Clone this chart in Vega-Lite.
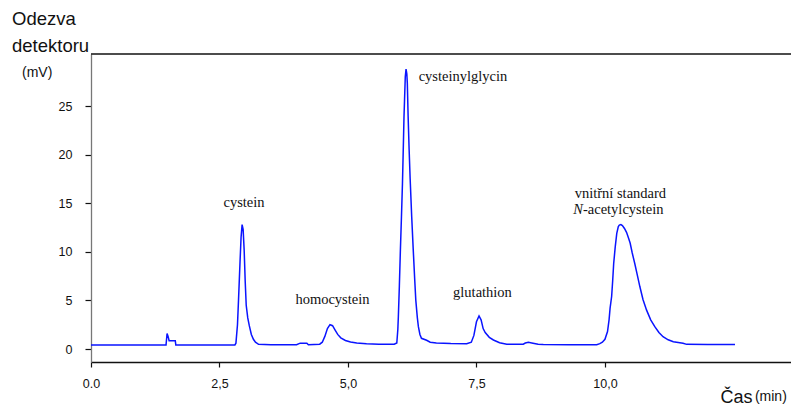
{
  "$schema": "https://vega.github.io/schema/vega-lite/v6.json",
  "width": 700,
  "height": 308,
  "autosize": {"type": "none"},
  "padding": {"left": 91, "top": 54, "right": 0, "bottom": 45},
  "background": "white",
  "config": {
    "view": {"stroke": null},
    "font": "Liberation Sans"
  },
  "datasets": {
    "trace": [
      {"t": 0, "v": 0.42}, {"t": 0.5, "v": 0.42}, {"t": 1.0, "v": 0.41}, {"t": 1.46, "v": 0.42},
      {"t": 1.47, "v": 1.0}, {"t": 1.48, "v": 1.6}, {"t": 1.5, "v": 1.3}, {"t": 1.52, "v": 0.85},
      {"t": 1.64, "v": 0.85}, {"t": 1.65, "v": 0.42}, {"t": 2.0, "v": 0.42}, {"t": 2.5, "v": 0.42},
      {"t": 2.8, "v": 0.42}, {"t": 2.82, "v": 0.6}, {"t": 2.85, "v": 2.5}, {"t": 2.87, "v": 5.0},
      {"t": 2.9, "v": 9.0}, {"t": 2.92, "v": 11.5}, {"t": 2.94, "v": 12.8}, {"t": 2.96, "v": 12.3},
      {"t": 2.98, "v": 10.2}, {"t": 3.0, "v": 7.0}, {"t": 3.02, "v": 4.5}, {"t": 3.05, "v": 3.2},
      {"t": 3.08, "v": 2.4}, {"t": 3.12, "v": 1.5}, {"t": 3.16, "v": 1.0}, {"t": 3.2, "v": 0.7},
      {"t": 3.26, "v": 0.48}, {"t": 3.5, "v": 0.44}, {"t": 4.0, "v": 0.44}, {"t": 4.07, "v": 0.6},
      {"t": 4.2, "v": 0.6}, {"t": 4.23, "v": 0.44}, {"t": 4.45, "v": 0.5}, {"t": 4.5, "v": 0.7},
      {"t": 4.55, "v": 1.3}, {"t": 4.6, "v": 2.1}, {"t": 4.65, "v": 2.5}, {"t": 4.7, "v": 2.4},
      {"t": 4.75, "v": 1.95}, {"t": 4.8, "v": 1.5}, {"t": 4.86, "v": 1.15}, {"t": 4.95, "v": 0.88},
      {"t": 5.05, "v": 0.72}, {"t": 5.17, "v": 0.62}, {"t": 5.36, "v": 0.55}, {"t": 5.6, "v": 0.5},
      {"t": 5.9, "v": 0.5}, {"t": 5.95, "v": 0.62}, {"t": 5.97, "v": 2.0}, {"t": 5.98, "v": 3.3},
      {"t": 6.0, "v": 6.5}, {"t": 6.02, "v": 10.2}, {"t": 6.04, "v": 13.5}, {"t": 6.06, "v": 17.0},
      {"t": 6.08, "v": 21.5}, {"t": 6.09, "v": 23.9}, {"t": 6.1, "v": 25.5}, {"t": 6.115, "v": 28.0},
      {"t": 6.13, "v": 28.8}, {"t": 6.145, "v": 28.3}, {"t": 6.155, "v": 27.3}, {"t": 6.17, "v": 24.0},
      {"t": 6.19, "v": 20.5}, {"t": 6.21, "v": 17.5}, {"t": 6.24, "v": 13.6}, {"t": 6.27, "v": 10.2},
      {"t": 6.3, "v": 7.0}, {"t": 6.32, "v": 5.0}, {"t": 6.35, "v": 3.2}, {"t": 6.37, "v": 2.3},
      {"t": 6.4, "v": 1.5}, {"t": 6.43, "v": 1.1}, {"t": 6.53, "v": 0.9}, {"t": 6.6, "v": 0.7},
      {"t": 6.72, "v": 0.62}, {"t": 7.0, "v": 0.56}, {"t": 7.31, "v": 0.55}, {"t": 7.4, "v": 0.7},
      {"t": 7.45, "v": 1.4}, {"t": 7.5, "v": 2.8}, {"t": 7.55, "v": 3.4}, {"t": 7.59, "v": 3.0},
      {"t": 7.63, "v": 2.1}, {"t": 7.67, "v": 1.7}, {"t": 7.75, "v": 1.2}, {"t": 7.83, "v": 0.93},
      {"t": 7.95, "v": 0.65}, {"t": 8.09, "v": 0.5}, {"t": 8.41, "v": 0.5}, {"t": 8.45, "v": 0.62},
      {"t": 8.51, "v": 0.69}, {"t": 8.6, "v": 0.6}, {"t": 8.7, "v": 0.5}, {"t": 8.8, "v": 0.46},
      {"t": 9.3, "v": 0.44}, {"t": 9.84, "v": 0.44}, {"t": 9.9, "v": 0.55}, {"t": 9.95, "v": 0.7},
      {"t": 10.0, "v": 1.0}, {"t": 10.05, "v": 1.8}, {"t": 10.08, "v": 3.0}, {"t": 10.1, "v": 4.2},
      {"t": 10.13, "v": 5.4}, {"t": 10.15, "v": 7.0}, {"t": 10.17, "v": 8.8}, {"t": 10.2, "v": 10.5},
      {"t": 10.23, "v": 11.9}, {"t": 10.26, "v": 12.6}, {"t": 10.28, "v": 12.75}, {"t": 10.31, "v": 12.8},
      {"t": 10.34, "v": 12.7}, {"t": 10.38, "v": 12.4}, {"t": 10.42, "v": 12.0}, {"t": 10.46, "v": 11.4},
      {"t": 10.49, "v": 10.9}, {"t": 10.53, "v": 9.9}, {"t": 10.58, "v": 8.8}, {"t": 10.63, "v": 7.6},
      {"t": 10.68, "v": 6.4}, {"t": 10.74, "v": 5.1}, {"t": 10.81, "v": 4.0}, {"t": 10.89, "v": 3.0},
      {"t": 10.97, "v": 2.3}, {"t": 11.05, "v": 1.7}, {"t": 11.13, "v": 1.27}, {"t": 11.23, "v": 0.95},
      {"t": 11.33, "v": 0.75}, {"t": 11.52, "v": 0.6}, {"t": 11.59, "v": 0.48}, {"t": 12.0, "v": 0.46},
      {"t": 12.53, "v": 0.46}
    ],
    "peaks": [
      {"t": 2.977, "v": 14.64, "label": "cystein"},
      {"t": 4.698, "v": 4.63, "label": "homocystein"},
      {"t": 7.237, "v": 27.57, "label": "cysteinylglycin"},
      {"t": 7.617, "v": 5.35, "label": "glutathion"},
      {"t": 10.30, "v": 15.53, "label": "vnitřní standard"}
    ],
    "italic": [{"t": 9.572, "v": 13.86, "label": "N"}],
    "rest": [{"t": 9.572, "v": 13.86, "label": "-acetylcystein"}],
    "units": [
      {"t": -1.342, "v": 28.0, "label": "(mV)"},
      {"t": 12.918, "v": -5.35, "label": "(min)"}
    ],
    "ytitle": [
      {"t": -1.537, "v": 33.33, "label": "Odezva"},
      {"t": -1.537, "v": 30.56, "label": "detektoru"}
    ],
    "frame": [{"v": 30.35}]
  },
  "layer": [
    {
      "data": {"name": "trace"},
      "mark": {"type": "line", "color": "#0a14ff", "strokeWidth": 1.5, "interpolate": "linear"},
      "encoding": {
        "x": {
          "field": "t", "type": "quantitative",
          "scale": {"domain": [0, 13.62], "nice": false, "zero": false},
          "axis": {
            "values": [0, 2.5, 5, 7.5, 10],
            "labelExpr": "datum.value == 0 ? '0.0' : replace(format(datum.value, '.1f'), '.', ',')",
            "grid": false, "labelFlush": false,
            "domainColor": "#111", "domainWidth": 1.3,
            "tickColor": "#111", "tickSize": 5, "tickWidth": 1.2,
            "labelFont": "Liberation Sans", "labelFontSize": 12.5, "labelColor": "#111",
            "labelPadding": 10, "labelBaseline": "top",
            "title": "Čas", "titleFont": "Liberation Sans", "titleFontSize": 18, "titleFontWeight": "normal",
            "titleColor": "#111", "titleAlign": "left", "titleAnchor": "start", "titleBaseline": "alphabetic",
            "titleX": 629, "titleY": 40
          }
        },
        "y": {
          "field": "v", "type": "quantitative",
          "scale": {"domain": [-1.337, 30.35], "nice": false, "zero": false},
          "axis": {
            "values": [0, 5, 10, 15, 20, 25],
            "grid": false, "labelFlush": false,
            "domainColor": "#777", "domainWidth": 1.3,
            "tickColor": "#111", "tickSize": 6, "tickWidth": 1.2,
            "labelFont": "Liberation Sans", "labelFontSize": 12.5, "labelColor": "#111",
            "labelPadding": 13,
            "title": null
          }
        }
      }
    },
    {
      "data": {"name": "frame"},
      "mark": {"type": "rule", "color": "#111", "strokeWidth": 1.4},
      "encoding": {"y": {"field": "v", "type": "quantitative"}}
    },
    {
      "data": {"name": "peaks"},
      "mark": {"type": "text", "font": "Liberation Serif", "fontSize": 14.5, "color": "#111", "align": "center", "baseline": "alphabetic"},
      "encoding": {
        "x": {"field": "t", "type": "quantitative"},
        "y": {"field": "v", "type": "quantitative"},
        "text": {"field": "label"}
      }
    },
    {
      "data": {"name": "italic"},
      "mark": {"type": "text", "font": "Liberation Serif", "fontSize": 14.5, "fontStyle": "italic", "color": "#111", "align": "right", "baseline": "alphabetic"},
      "encoding": {
        "x": {"field": "t", "type": "quantitative"},
        "y": {"field": "v", "type": "quantitative"},
        "text": {"field": "label"}
      }
    },
    {
      "data": {"name": "rest"},
      "mark": {"type": "text", "font": "Liberation Serif", "fontSize": 14.5, "color": "#111", "align": "left", "baseline": "alphabetic"},
      "encoding": {
        "x": {"field": "t", "type": "quantitative"},
        "y": {"field": "v", "type": "quantitative"},
        "text": {"field": "label"}
      }
    },
    {
      "data": {"name": "units"},
      "mark": {"type": "text", "font": "Liberation Sans", "fontSize": 14, "color": "#111", "align": "left", "baseline": "alphabetic"},
      "encoding": {
        "x": {"field": "t", "type": "quantitative"},
        "y": {"field": "v", "type": "quantitative"},
        "text": {"field": "label"}
      }
    },
    {
      "data": {"name": "ytitle"},
      "mark": {"type": "text", "font": "Liberation Sans", "fontSize": 18.5, "color": "#111", "align": "left", "baseline": "alphabetic"},
      "encoding": {
        "x": {"field": "t", "type": "quantitative"},
        "y": {"field": "v", "type": "quantitative"},
        "text": {"field": "label"}
      }
    }
  ]
}
